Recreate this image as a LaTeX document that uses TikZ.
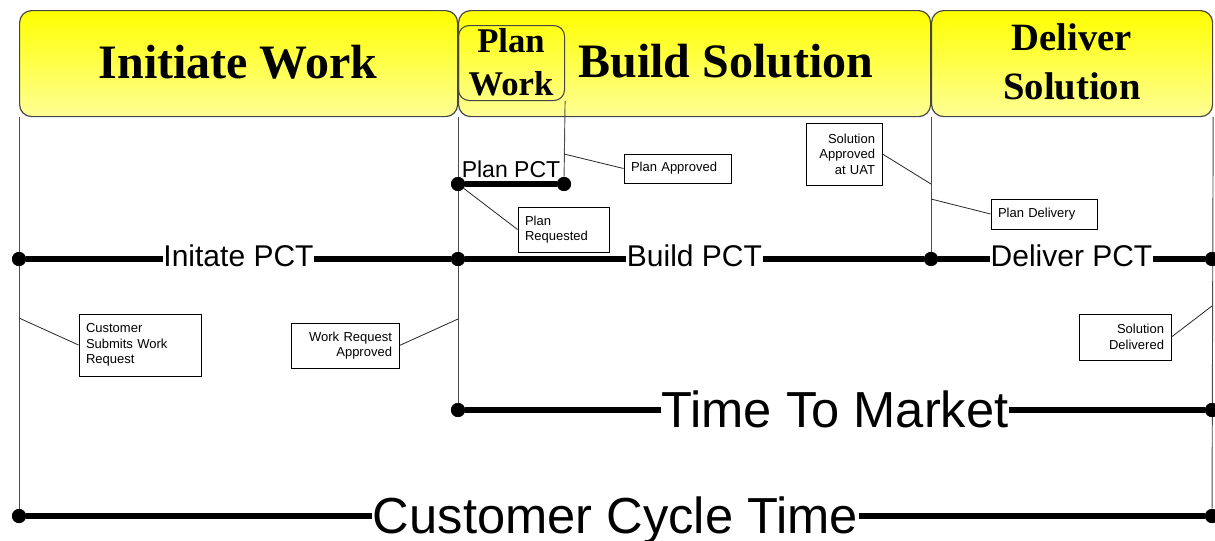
\documentclass[tikz,border=0pt]{standalone}
\usepackage{fontspec}
\newfontfamily\phasefont{Liberation Serif}
\newfontfamily\labelfont{Liberation Sans}
\definecolor{paleyellow}{RGB}{255,255,150}
\definecolor{rimgray}{RGB}{70,70,70}

\begin{document}
\begin{tikzpicture}[x=0.75pt, y=-0.75pt,
  phase/.style={draw=rimgray, line width=0.9pt, rounded corners=9pt,
    top color=yellow, bottom color=paleyellow, anchor=north west,
    inner sep=0pt, minimum height=79.5pt},
  subphase/.style={draw=rimgray, line width=0.8pt, rounded corners=8pt,
    anchor=north west, inner sep=0pt},
  phasetext/.style={font=\phasefont\bfseries\fontsize{36}{40}\selectfont, anchor=base, inner sep=0pt},
  vline/.style={draw=black!70, line width=0.7pt},
  pct/.style={line width=5.2pt},
  dot/.style={circle, fill=black, inner sep=0pt, minimum size=10.5pt},
  pctlabel/.style={midway, anchor=base, fill=white, inner xsep=0.6pt, inner ysep=1pt,
    font=\labelfont\fontsize{22.5}{26}\selectfont, yshift=-5.6pt},
  biglabel/.style={midway, anchor=base, fill=white, inner xsep=0.6pt, inner ysep=1pt,
    font=\labelfont\fontsize{38}{44}\selectfont, yshift=-12.75pt},
  callout/.style={draw=black, line width=0.7pt, fill=white, inner xsep=5.25pt, inner ysep=0pt,
    font=\labelfont\fontsize{9.75}{11.6}\selectfont},
  leader/.style={draw=black!85, line width=0.6pt}
]
\useasboundingbox (0,0) rectangle (1215,540);

% phase headers
\node[phase, minimum width=328.5pt] (init) at (19,10) {};
\node[phase, minimum width=354pt] (build) at (458,10) {};
\node[phase, minimum width=210.75pt] (deliver) at (931,10) {};
\node[subphase, minimum width=79.5pt, minimum height=56.25pt] (plan) at (458,25) {};

\node[phasetext] (initT) at (238,78) {Initiate Work};
\node[phasetext] (buildT) at (726,77) {Build Solution};
\node[font=\phasefont\bfseries\fontsize{26}{32}\selectfont, align=center, inner sep=0pt]
  (planT) at (511,62) {Plan\\Work};
\node[font=\phasefont\bfseries\fontsize{29}{37}\selectfont, align=center, inner sep=0pt]
  (deliverT) at (1072,62) {Deliver\\Solution};

% milestone dots
\node[dot] (pp1) at (458,184) {};
\node[dot] (pp2) at (564,184) {};
\node[dot] (ip1) at (19,259) {};
\node[dot] (ip2) at (458,259) {};
\node[dot] (dp1) at (931,259) {};
\node[dot] (dp2) at (1212,259) {};
\node[dot] (tm1) at (458,410) {};
\node[dot] (tm2) at (1212,410) {};
\node[dot] (ct1) at (19,516) {};
\node[dot] (ct2) at (1212,516) {};

% phase boundaries
\draw[vline] (init.south west) -- (ct1);
\draw[vline] (build.south west) -- (tm1);
\draw[vline] (plan.south east) -- (pp2);
\draw[vline] (deliver.south west) -- (dp1);
\draw[vline] (deliver.south east) -- (ct2);

% cycle time spans
\draw[pct] (pp1) -- (pp2)
  node[midway, anchor=base, yshift=5.25pt, inner sep=0pt,
       font=\labelfont\fontsize{17.25}{20}\selectfont] (ppT) {Plan PCT};
\draw[pct] (ip1) -- (ip2) node[pctlabel] (ipT) {Initate PCT};
\draw[pct] (ip2) -- (dp1) node[pctlabel] (bpT) {Build PCT};
\draw[pct] (dp1) -- (dp2) node[pctlabel] (dpT) {Deliver PCT};
\draw[pct] (tm1) -- (tm2) node[biglabel] (tmT) {Time To Market};
\draw[pct] (ct1) -- (ct2) node[biglabel] (ctT) {Customer Cycle Time};

% redraw dots over line ends
\foreach \d in {pp1,pp2,ip1,ip2,dp1,dp2,tm1,tm2,ct1,ct2}
  \fill (\d) circle (5.25pt);

% event callouts
\node[callout, text width=69.75pt, minimum height=21.75pt, align=left]
  (papp) at (677.5,168.5) {Plan Approved};
\node[callout, text width=57.75pt, minimum height=33.75pt, align=left]
  (preq) at (563.5,229.5) {Plan\\Requested};
\node[callout, text width=46.5pt, minimum height=46.5pt, align=right]
  (suat) at (844,154) {Solution\\Approved\\at UAT};
\node[callout, text width=69pt, minimum height=22.5pt, align=left]
  (pdel) at (1044,214) {Plan Delivery};
\node[callout, text width=81pt, minimum height=46.5pt, align=left]
  (csub) at (140,345) {Customer\\Submits Work\\Request};
\node[callout, text width=70.5pt, minimum height=33.75pt, align=right]
  (wreq) at (345,345.5) {Work Request\\Approved};
\node[callout, text width=58.5pt, minimum height=34.5pt, align=right]
  (sdel) at (1125,337) {Solution\\Delivered};

% callout anchor points on the boundaries
\coordinate (papp-t) at (564,154);
\coordinate (suat-t) at (931,184);
\coordinate (pdel-t) at (931,199);
\coordinate (csub-t) at (19,318);
\coordinate (wreq-t) at (458,319);
\coordinate (sdel-t) at (1212,306);

\draw[leader] (papp-t) -- (papp.west);
\draw[leader] (pp1) -- (preq.west);
\draw[leader] (suat.east) -- (suat-t);
\draw[leader] (pdel-t) -- (pdel.west);
\draw[leader] (csub-t) -- (csub.west);
\draw[leader] (wreq.east) -- (wreq-t);
\draw[leader] (sdel.east) -- (sdel-t);
\end{tikzpicture}
\end{document}
